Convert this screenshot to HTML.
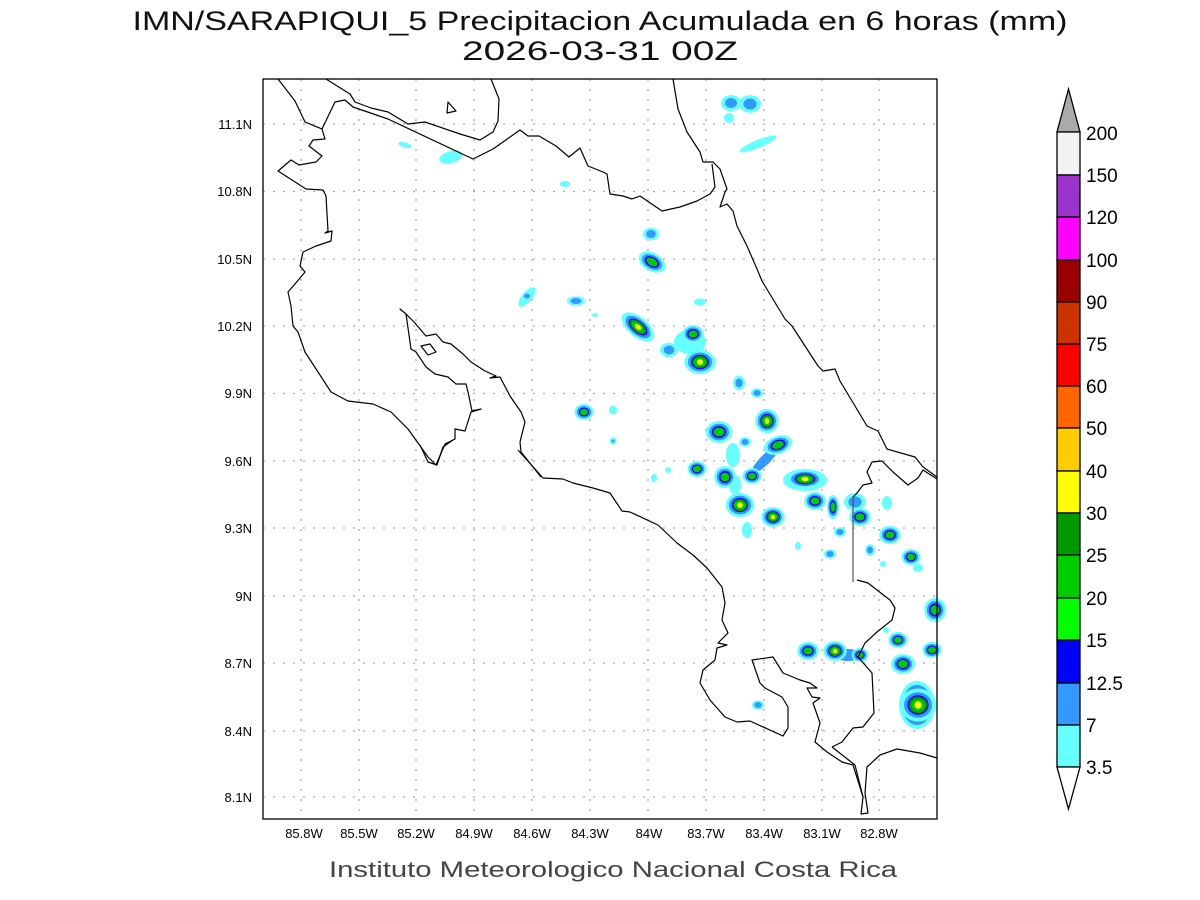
<!DOCTYPE html>
<html><head><meta charset="utf-8"><style>
html,body{margin:0;padding:0;background:#fff;}
svg{display:block;}
</style></head><body>
<svg width="1200" height="900" xmlns="http://www.w3.org/2000/svg" font-family="Liberation Sans, sans-serif">
<rect width="1200" height="900" fill="#fff"/>
<text x="600" y="30" font-size="27" text-anchor="middle" textLength="935" lengthAdjust="spacingAndGlyphs" fill="#111">IMN/SARAPIQUI_5 Precipitacion Acumulada en 6 horas (mm)</text>
<text x="600" y="60" font-size="27" text-anchor="middle" textLength="276" lengthAdjust="spacingAndGlyphs" fill="#111">2026-03-31 00Z</text>

<g stroke="#aaa" stroke-width="1.3" stroke-dasharray="2,8">
<line x1="263" x2="937" y1="124" y2="124"/><line x1="263" x2="937" y1="191.5" y2="191.5"/><line x1="263" x2="937" y1="259" y2="259"/><line x1="263" x2="937" y1="326" y2="326"/><line x1="263" x2="937" y1="393.5" y2="393.5"/><line x1="263" x2="937" y1="461" y2="461"/><line x1="263" x2="937" y1="528" y2="528"/><line x1="263" x2="937" y1="596" y2="596"/><line x1="263" x2="937" y1="663" y2="663"/><line x1="263" x2="937" y1="731" y2="731"/><line x1="263" x2="937" y1="797" y2="797"/>
<line y1="79" y2="819" x1="301" x2="301"/><line y1="79" y2="819" x1="359" x2="359"/><line y1="79" y2="819" x1="416" x2="416"/><line y1="79" y2="819" x1="474" x2="474"/><line y1="79" y2="819" x1="532" x2="532"/><line y1="79" y2="819" x1="590" x2="590"/><line y1="79" y2="819" x1="648" x2="648"/><line y1="79" y2="819" x1="706" x2="706"/><line y1="79" y2="819" x1="764" x2="764"/><line y1="79" y2="819" x1="822" x2="822"/><line y1="79" y2="819" x1="879" x2="879"/>
</g>

<defs>
<g id="b1"><ellipse rx="10" ry="8" fill="#66ffff"/><ellipse rx="6" ry="5" fill="#3399ff"/></g>
<g id="b2"><ellipse rx="12" ry="10" fill="#66ffff"/><ellipse rx="9" ry="7.5" fill="#3399ff"/><ellipse rx="6.5" ry="5.5" fill="#0000ff"/><ellipse rx="5" ry="4" fill="#00cc00"/></g>
<g id="b3"><ellipse rx="13" ry="11" fill="#66ffff"/><ellipse rx="10" ry="8.5" fill="#3399ff"/><ellipse rx="7.5" ry="6.5" fill="#0000ff"/><ellipse rx="6.5" ry="5.5" fill="#009900"/><ellipse rx="5" ry="4" fill="#00cc00"/><ellipse rx="2.5" ry="2.5" fill="#ffff00"/></g>
</defs>
<g>
<use href="#b1" transform="translate(731,103)"/><use href="#b1" transform="translate(750,104) scale(1.1)"/>
<ellipse cx="729" cy="118" rx="5" ry="5" fill="#66ffff"/>
<ellipse cx="758" cy="144" rx="20" ry="4" fill="#66ffff" transform="rotate(-22 758 144)"/>
<use href="#b1" transform="translate(651,234) scale(0.8)"/>
<use href="#b2" transform="translate(652,262) rotate(30) scale(1.2,0.9)"/>
<ellipse cx="700" cy="302" rx="6" ry="3.5" fill="#66ffff"/>
<use href="#b3" transform="translate(638,327) rotate(40) scale(1.5,0.9)"/>
<use href="#b1" transform="translate(669,350) scale(0.9)"/>
<ellipse cx="690" cy="342" rx="16" ry="12" fill="#66ffff"/><use href="#b2" transform="translate(693,334) scale(0.9)"/>
<use href="#b3" transform="translate(700,362) scale(1.2,1.1)"/>
<use href="#b1" transform="translate(739,383) scale(0.6,0.9)"/><use href="#b1" transform="translate(757,393) scale(0.6)"/>
<ellipse cx="613" cy="410" rx="4" ry="4.5" fill="#66ffff"/><ellipse cx="613" cy="441" rx="3.5" ry="3.5" fill="#66ffff"/><ellipse cx="613" cy="441" rx="1.5" ry="1.5" fill="#3399ff"/>
<use href="#b2" transform="translate(584,412) scale(0.8)"/>
<ellipse cx="527" cy="297" rx="12" ry="5" fill="#66ffff" transform="rotate(-50 527 297)"/><ellipse cx="527" cy="296" rx="3" ry="2.5" fill="#3399ff"/>
<use href="#b1" transform="translate(576,301) scale(0.9,0.6)"/>
<ellipse cx="595" cy="315" rx="3" ry="2" fill="#66ffff"/>
<ellipse cx="565" cy="184" rx="5" ry="3" fill="#66ffff"/>
<ellipse cx="451" cy="157" rx="12" ry="6" fill="#66ffff" transform="rotate(-15 451 157)"/>
<ellipse cx="405" cy="145" rx="7" ry="2.5" fill="#66ffff" transform="rotate(15 405 145)"/>
<use href="#b3" transform="translate(767,421) scale(0.9,1.1)"/>
<use href="#b2" transform="translate(719,432) scale(1.1)"/>
<ellipse cx="733" cy="455" rx="7" ry="12" fill="#66ffff"/>
<ellipse cx="735" cy="485" rx="6" ry="10" fill="#66ffff"/>
<use href="#b1" transform="translate(745,442) scale(0.6)"/>
<ellipse cx="765" cy="460" rx="5" ry="18" fill="#3399ff" transform="rotate(45 765 460)"/>
<use href="#b2" transform="translate(778,445) rotate(-20) scale(1.2,0.9)"/>
<use href="#b2" transform="translate(697,469) scale(0.8)"/>
<use href="#b2" transform="translate(725,477) scale(0.9,1.1)"/>
<use href="#b2" transform="translate(752,476) scale(0.8)"/>
<use href="#b3" transform="translate(740,505) scale(1.1)"/>
<ellipse cx="747" cy="530" rx="5" ry="8" fill="#66ffff"/>
<use href="#b3" transform="translate(773,517) scale(0.9)"/>
<ellipse cx="805" cy="480" rx="22" ry="11" fill="#66ffff"/><use href="#b3" transform="translate(805,479) scale(1.4,0.85)"/>
<use href="#b2" transform="translate(815,501) scale(0.9)"/>
<use href="#b2" transform="translate(833,507) scale(0.5,1.2)"/>
<use href="#b1" transform="translate(855,502) scale(1.1)"/>
<use href="#b2" transform="translate(860,517) scale(0.9)"/>
<use href="#b1" transform="translate(840,532) scale(0.6)"/>
<ellipse cx="887" cy="503" rx="5" ry="7" fill="#66ffff"/>
<use href="#b2" transform="translate(890,535) scale(0.9)"/>
<use href="#b2" transform="translate(911,557) scale(0.8)"/>
<ellipse cx="918" cy="568" rx="5" ry="4" fill="#66ffff"/>
<use href="#b1" transform="translate(830,554) scale(0.6)"/>
<use href="#b1" transform="translate(870,550) scale(0.5,0.7)"/>
<ellipse cx="798" cy="546" rx="3" ry="4" fill="#66ffff"/><ellipse cx="883" cy="564" rx="3" ry="3" fill="#66ffff"/>
<ellipse cx="668" cy="470" rx="3" ry="3" fill="#66ffff"/><ellipse cx="654" cy="478" rx="3" ry="4" fill="#66ffff"/>
<use href="#b2" transform="translate(935,610) scale(0.9,1.2)"/>
<use href="#b2" transform="translate(808,651) scale(0.9)"/>
<ellipse cx="848" cy="655" rx="14" ry="6" fill="#3399ff"/>
<use href="#b3" transform="translate(835,651) scale(0.9)"/>
<use href="#b2" transform="translate(860,655) scale(0.7)"/>
<use href="#b2" transform="translate(898,640) scale(0.8)"/>
<use href="#b2" transform="translate(903,664) scale(1,1)"/>
<use href="#b2" transform="translate(932,650) scale(0.8)"/>
<ellipse cx="917" cy="705" rx="18" ry="24" fill="#66ffff"/>
<ellipse cx="917" cy="705" rx="15" ry="20" fill="#3399ff"/>
<use href="#b3" transform="translate(918,705) scale(1.4,1.5)"/>
<use href="#b1" transform="translate(758,705) scale(0.6)"/>
<ellipse cx="886" cy="630" rx="3" ry="3" fill="#66ffff"/>
</g>

<g fill="none" stroke="#000" stroke-width="1.2" stroke-linejoin="round">
<polyline points="278,79 295,101 305,122 322,129 325,139 313,140 309,146 322,156 316,162 299,165 291,160 278,171 306,189 323,190 326,196 328,231 325,233 332,231 331,241 316,246 303,252 300,266 305,272 295,284 288,292 291,306 293,326 298,332 305,352 331,392 348,401 373,404 391,412 408,429 428,457 436,465 445,444 455,439 455,429 465,431 471,412 481,409 472,411 468,392 466,384 456,384 448,377 435,374 426,367 416,352 411,349 406,314 400,309 406,314 414,322 426,336 436,334 443,342 451,344 463,354 471,362 485,371 496,376 490,378 500,377 510,396 521,412 525,422 520,442 521,452 541,477"/>
<polyline points="420,445 428,462 437,465 443,447 453,440"/>
<polyline points="518,450 543,478 563,479 573,483 593,488 610,493 622,511 630,512 658,525 677,543 693,555 707,568 722,587 725,603 722,620 728,633 718,643 727,645 717,648 715,660 703,670 700,683 710,700 725,717 737,722 750,721 783,736 788,728 788,707 782,697 765,688 760,683 752,660 773,657 783,673 800,680 810,683 817,688 807,688 812,697 820,698 813,703 820,723 815,742 827,752 842,762 853,765 863,797 861,814 868,813 865,793 867,767 880,755 897,749 920,753 937,758"/>
<polyline points="832,747 842,742 853,728 863,727 874,713 872,673 858,657 865,643 877,632 892,620 895,608 890,600 877,590 868,583 857,580"/>
<polyline points="832,747 855,765 863,797" />
<polyline stroke="#555" points="853,582 853,497"/>
<polyline points="853,497 857,493 863,485 872,483 867,472 872,462 882,461 893,472 908,485 918,478 923,470 937,479"/>
<polyline points="673,79 678,109 687,132 700,152 703,162 713,162 720,169 727,189 725,192 720,207 727,204 733,211 737,226 747,246 757,269 762,281 785,319 792,326 818,366 823,371 835,369 840,381 867,426 878,431 887,449 915,457 923,467 937,477"/>
<polyline points="322,129 335,102 345,100 353,107 388,119 473,159 493,149 520,130 528,136 539,136 556,146 569,157 580,148 588,166 603,172 607,174 610,194 623,196 632,199 640,196 662,211 680,207 697,201 710,194 715,187 712,164"/>
<polyline points="326,79 350,94 355,102 371,108 388,112 408,124 425,122 460,134 480,140 493,132 498,121 499,99 491,79"/>
<polygon points="448,102 456,111 447,113"/>
<polygon points="421,346 430,344 436,352 428,355"/>
</g>
<rect x="263" y="79" width="674" height="740" fill="none" stroke="#000" stroke-width="1.3"/>

<g font-size="13" fill="#000" text-anchor="end">
<text x="252" y="129">11.1N</text><text x="252" y="196">10.8N</text><text x="252" y="264">10.5N</text><text x="252" y="331">10.2N</text><text x="252" y="398">9.9N</text><text x="252" y="466">9.6N</text><text x="252" y="533">9.3N</text><text x="252" y="601">9N</text><text x="252" y="668">8.7N</text><text x="252" y="736">8.4N</text><text x="252" y="802">8.1N</text>
</g>
<g font-size="13" fill="#000" text-anchor="middle">
<text x="304" y="838">85.8W</text><text x="359" y="838">85.5W</text><text x="416" y="838">85.2W</text><text x="474" y="838">84.9W</text><text x="532" y="838">84.6W</text><text x="590" y="838">84.3W</text><text x="649" y="838">84W</text><text x="706" y="838">83.7W</text><text x="764" y="838">83.4W</text><text x="822" y="838">83.1W</text><text x="879" y="838">82.8W</text>
</g>
<text x="613" y="877" font-size="22" text-anchor="middle" textLength="568" lengthAdjust="spacingAndGlyphs" fill="#444">Instituto Meteorologico Nacional Costa Rica</text>

<g stroke="#000" stroke-width="1.3">
<polygon points="1068.5,89 1080,132 1057,132" fill="#aaaaaa"/>
<rect x="1057" y="132" width="23" height="43" fill="#f2f2f2"/>
<rect x="1057" y="175" width="23" height="42" fill="#9933cc"/>
<rect x="1057" y="217" width="23" height="43" fill="#ff00ff"/>
<rect x="1057" y="260" width="23" height="42" fill="#990000"/>
<rect x="1057" y="302" width="23" height="42" fill="#cc3300"/>
<rect x="1057" y="344" width="23" height="42" fill="#ff0000"/>
<rect x="1057" y="386" width="23" height="42" fill="#ff6600"/>
<rect x="1057" y="428" width="23" height="43" fill="#ffcc00"/>
<rect x="1057" y="471" width="23" height="42" fill="#ffff00"/>
<rect x="1057" y="513" width="23" height="42" fill="#009900"/>
<rect x="1057" y="555" width="23" height="43" fill="#00cc00"/>
<rect x="1057" y="598" width="23" height="42" fill="#00ff00"/>
<rect x="1057" y="640" width="23" height="43" fill="#0000ff"/>
<rect x="1057" y="683" width="23" height="42" fill="#3399ff"/>
<rect x="1057" y="725" width="23" height="42" fill="#66ffff"/>
<polygon points="1057,767 1080,767 1068.5,809" fill="#fff"/>
</g>
<g font-size="19" fill="#000">
<text x="1086" y="140">200</text><text x="1086" y="182">150</text><text x="1086" y="224">120</text><text x="1086" y="267">100</text><text x="1086" y="309">90</text><text x="1086" y="351">75</text><text x="1086" y="393">60</text><text x="1086" y="435">50</text><text x="1086" y="478">40</text><text x="1086" y="520">30</text><text x="1086" y="562">25</text><text x="1086" y="605">20</text><text x="1086" y="647">15</text><text x="1086" y="690">12.5</text><text x="1086" y="732">7</text><text x="1086" y="774">3.5</text>
</g>
</svg>
</body></html>
